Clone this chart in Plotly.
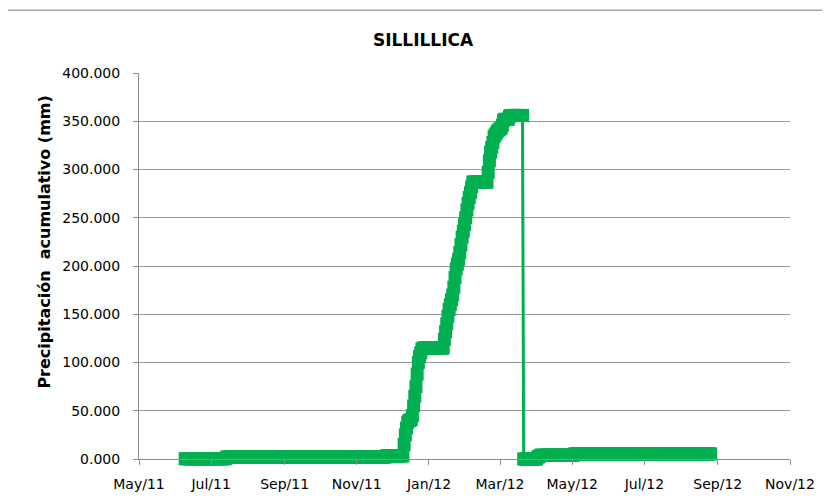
import pandas as pd
import plotly.graph_objects as go

# ---- data (cumulative precipitation, mm) ----
# segment 1: dates where the cumulative value changes, and the value from that date on
seg1_dates = ["2011-06-09", "2011-07-14", "2011-11-26",
              "2011-12-11", "2011-12-12", "2011-12-13", "2011-12-14", "2011-12-15",
              "2011-12-17", "2011-12-18", "2011-12-19", "2011-12-20", "2011-12-21",
              "2011-12-22", "2011-12-23", "2011-12-24", "2011-12-25", "2011-12-26",
              "2011-12-27",
              "2012-01-14", "2012-01-15", "2012-01-16", "2012-01-17", "2012-01-18",
              "2012-01-19", "2012-01-20", "2012-01-21", "2012-01-22", "2012-01-23",
              "2012-01-24", "2012-01-25", "2012-01-26", "2012-01-27", "2012-01-28",
              "2012-01-29", "2012-01-30", "2012-01-31", "2012-02-01", "2012-02-02",
              "2012-02-03", "2012-02-04", "2012-02-05", "2012-02-06", "2012-02-07",
              "2012-02-20", "2012-02-21", "2012-02-22", "2012-02-23", "2012-02-24",
              "2012-02-25", "2012-02-26", "2012-02-27", "2012-02-28", "2012-02-29",
              "2012-03-01", "2012-03-02", "2012-03-03", "2012-03-04", "2012-03-05",
              "2012-03-09", "2012-03-10"]
seg1_values = [0.3, 2.0, 3.3,
               15, 25, 32, 38, 40,
               41, 45, 55, 65, 75,
               88, 100, 106, 110, 114,
               115,
               124, 132, 140, 148, 155,
               160, 165, 170, 178, 188,
               197, 202, 207, 214, 222,
               230, 236, 243, 250, 258,
               265, 271, 276, 282, 287,
               297, 309, 318, 323, 328,
               334, 336, 338, 340, 341,
               342, 343, 346, 351, 352,
               355, 356]
seg1_end = "2012-03-20"

# segment 2: after reset
seg2_dates = ["2012-03-21", "2012-04-02", "2012-04-04", "2012-05-03"]
seg2_values = [0.0, 2.3, 3.9, 5.3]
seg2_end = "2012-08-26"

tick_dates = ["2011-05-01", "2011-07-01", "2011-09-01", "2011-11-01", "2012-01-01",
              "2012-03-01", "2012-05-01", "2012-07-01", "2012-09-01", "2012-11-01"]
tick_labels = ["May/11", "Jul/11", "Sep/11", "Nov/11", "Jan/12",
               "Mar/12", "May/12", "Jul/12", "Sep/12", "Nov/12"]
y_ticks = [0, 50, 100, 150, 200, 250, 300, 350, 400]


def daily(dates, values, end):
    s = pd.Series(values, index=pd.to_datetime(dates))
    idx = pd.date_range(dates[0], end, freq="D")
    return s.reindex(idx).ffill()


series = pd.concat([daily(seg1_dates, seg1_values, seg1_end),
                    daily(seg2_dates, seg2_values, seg2_end)])

GREEN = "#00B050"
GRAY = "#8c8c8c"
GRID = "#9a9a9a"
FONT = "DejaVu Sans"

# page body has an 8px offset: figure is 822x496, placed at (8, 8)
W, H = 822, 496
L, R, T, B = 131, 40, 65, 35
PW, PH = W - L - R, H - T - B

fig = go.Figure()
fig.add_trace(go.Scatter(
    x=series.index, y=series.values, mode="lines+markers",
    line=dict(color=GREEN, width=3),
    marker=dict(symbol="square", size=13, color=GREEN, line=dict(width=0)),
    cliponaxis=False, showlegend=False, hoverinfo="x+y"))

fig.update_layout(
    width=W, height=H,
    margin=dict(l=L, r=R, t=T, b=B),
    paper_bgcolor="white", plot_bgcolor="white",
    font=dict(family=FONT, size=14, color="#000000"),
    title=dict(text="<b>SILLILLICA</b>", x=(423 - 8) / W, xanchor="center",
               y=1 - (40 - 8) / H, yanchor="middle",
               font=dict(family=FONT, size=17, color="#000000")),
    xaxis=dict(type="date", range=[tick_dates[0], tick_dates[-1]],
               tickvals=tick_dates, ticktext=tick_labels,
               showgrid=False, showline=True, linecolor=GRAY, linewidth=1,
               ticks="outside", ticklen=5, tickcolor=GRAY, zeroline=False,
               ticklabelstandoff=7,
               tickfont=dict(family=FONT, size=14, color="#000000")),
    yaxis=dict(range=[0, 400], tickvals=y_ticks, tickformat=".3f",
               showgrid=True, gridcolor=GRID, gridwidth=1,
               showline=True, linecolor=GRAY, linewidth=1,
               ticks="outside", ticklen=5, tickcolor=GRAY, zeroline=False,
               ticklabelstandoff=10,
               tickfont=dict(family=FONT, size=14, color="#000000")),
    annotations=[dict(text="<b>Precipitación  acumulativo (mm)</b>", textangle=-90,
                      xref="paper", yref="paper",
                      x=(45 - 8 - L) / PW, y=(H - B - (247 - 8)) / PH,
                      xanchor="center", yanchor="middle", showarrow=False,
                      font=dict(family=FONT, size=16, color="#000000"))],
    shapes=[dict(type="line", xref="paper", yref="paper",
                 x0=-L / PW, x1=(W - L) / PW,
                 y0=1 + (T - 0.5) / PH, y1=1 + (T - 0.5) / PH,
                 line=dict(color="#a6a6a6", width=1.5))],
)

fig.write_html("out.html")
